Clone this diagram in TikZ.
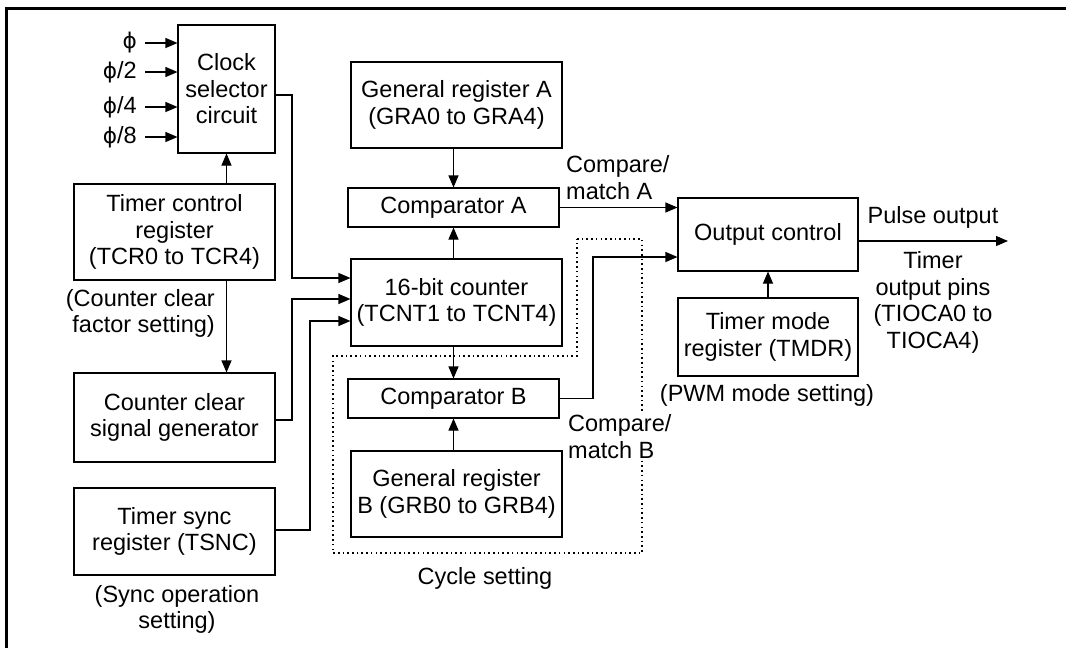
\documentclass[tikz,border=0pt]{standalone}
\usepackage{fontspec}
\setmainfont{Liberation Sans}
\newfontfamily\phifont[Scale=0.92]{DejaVu Sans}
\usetikzlibrary{arrows.meta}
\newcommand{\myphi}{{\phifont ϕ}}
\tikzset{
  every node/.style={font=\fontsize{23.5}{26.5}\selectfont, inner sep=0pt},
  box/.style={draw, line width=1.1pt, align=center},
  lbl/.style={align=center},
  arr/.style={line width=1.1pt, -{Triangle[length=12pt,width=10pt]}},
  wire/.style={line width=1.1pt},
  dots/.style={line width=1.6pt, dash pattern=on 1.6pt off 3.1pt},
}
\begin{document}
\begin{tikzpicture}[x=1pt,y=-1pt]
\useasboundingbox (0,0) rectangle (1066,648);
% frame
\draw[line width=2.7pt] (6.2,648) -- (6.2,8.7) -- (1066,8.7);

% boxes
\node[box, minimum width=97pt, minimum height=128pt] (clk) at (226.5,89) {Clock\\selector\\circuit};
\node[box, minimum width=201pt, minimum height=96pt] (tcr) at (174.5,232) {Timer control\\register\\(TCR0 to TCR4)};
\node[box, minimum width=201pt, minimum height=89pt] (ccg) at (174.5,417.5) {Counter clear\\signal generator};
\node[box, minimum width=201pt, minimum height=87pt] (tsnc) at (174.5,531.5) {Timer sync\\register (TSNC)};
\node[box, minimum width=211pt, minimum height=86pt] (gra) at (456.5,105) {General register A\\(GRA0 to GRA4)};
\node[box, minimum width=211pt, minimum height=39pt] (cmpa) at (453.5,207.5) {Comparator A};
\node[box, minimum width=211pt, minimum height=87pt] (cnt) at (456.5,302.5) {16-bit counter\\(TCNT1 to TCNT4)};
\node[box, minimum width=211pt, minimum height=39pt] (cmpb) at (453.5,398.5) {Comparator B};
\node[box, minimum width=211pt, minimum height=86pt] (grb) at (456.5,494) {General register\\B (GRB0 to GRB4)};
\node[box, minimum width=180pt, minimum height=73pt] (oc) at (768,234.5) {Output control};
\node[box, minimum width=180pt, minimum height=78pt] (tmdr) at (768,337) {Timer mode\\register (TMDR)};

% clock inputs
\node[anchor=east] (p1) at (137,43) {\myphi};
\node[anchor=east] (p2) at (137,72) {\myphi/2};
\node[anchor=east] (p3) at (137,107) {\myphi/4};
\node[anchor=east] (p4) at (137,137) {\myphi/8};
\foreach \p in {p1,p2,p3,p4}
  \draw[arr] ([xshift=8pt]\p.east) -- (\p.east -| clk.west);

% dotted cycle-setting region
\draw[dots] (577,239) -- (642,239) -- (642,553) -- (333,553) -- (333,356) -- (577,356) -- cycle;

% labels
\node[align=right, anchor=east] (lccf) at (215,313.5) {(Counter clear\\factor setting)};
\node[lbl] (lsync) at (177,609.5) {(Sync operation\\setting)};
\node[align=left, anchor=west] (lcma) at (566,177.5) {Compare/\\match A};
\node[align=left, anchor=west, fill=white, inner ysep=1pt] (lcmb) at (568,436.5) {Compare/\\match B};
\node[lbl] (lpulse) at (933,217) {Pulse output};
\node[lbl] (lpins) at (933,302.5) {Timer\\output pins\\(TIOCA0 to\\TIOCA4)};
\node[lbl] (lpwm) at (767,395) {(PWM mode setting)};
\node[lbl] (lcyc) at (485,578) {Cycle setting};

% connectors
\draw[arr] (tcr.north -| clk.south) -- (clk.south);
\draw[arr] (tcr.south -| clk.south) -- (ccg.north -| clk.south);
\draw[arr] (clk.east |- 0,95) -- (292,95) -- (292,278) -- (cnt.west |- 0,278);
\draw[arr] (ccg.east |- 0,420) -- (292,420) -- (292,299) -- (cnt.west |- 0,299);
\draw[arr] (tsnc.east |- 0,530) -- (310,530) -- (310,321) -- (cnt.west |- 0,321);
\draw[arr] (gra.south -| cmpa.north) -- (cmpa.north);
\draw[arr] (cnt.north -| cmpa.south) -- (cmpa.south);
\draw[arr] (cnt.south -| cmpb.north) -- (cmpb.north);
\draw[arr] (grb.north -| cmpb.south) -- (cmpb.south);
\draw[arr] (cmpa.east) -- (oc.west |- cmpa.east);
\draw[arr] (cmpb.east) -- (593,398.5) -- (593,257) -- (oc.west |- 0,257);
\draw[arr] (tmdr.north) -- (oc.south);
\coordinate (pout) at (1008,241);
\draw[arr] (oc.east |- pout) -- (pout);
\end{tikzpicture}
\end{document}
